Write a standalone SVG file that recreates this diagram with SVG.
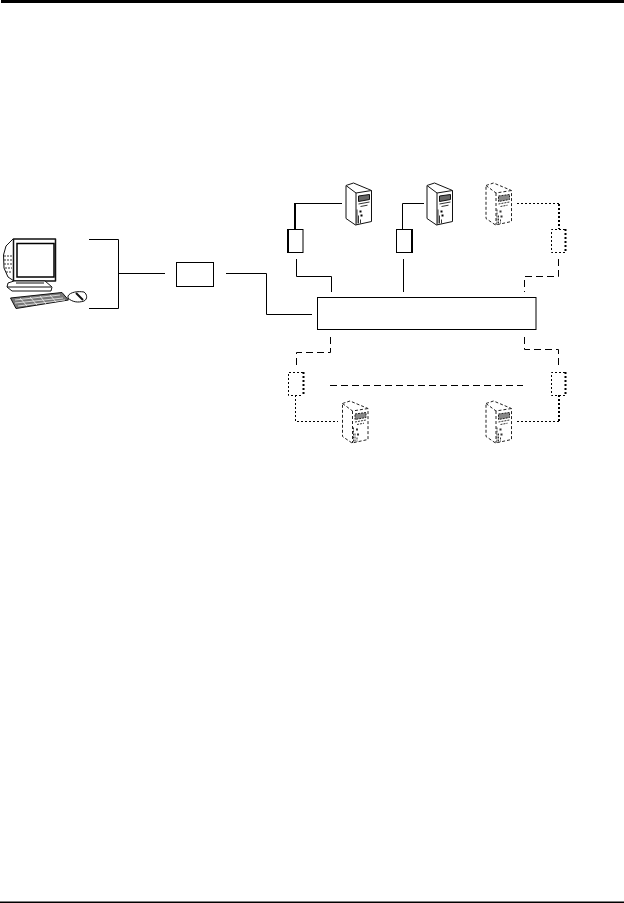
<svg xmlns="http://www.w3.org/2000/svg" width="624" height="903" viewBox="0 0 624 903">
<style>
.l{fill:none;stroke:#000;stroke-width:1}
.t{fill:none;stroke:#000;stroke-width:2}
.box{fill:#fff;stroke:#000;stroke-width:1}
.dash{fill:none;stroke:#000;stroke-width:1;stroke-dasharray:7 4}
.dot{fill:none;stroke:#000;stroke-width:1;stroke-dasharray:2 2}
.dott{fill:none;stroke:#000;stroke-width:2;stroke-dasharray:2 2}
.s{fill:#fff;stroke:#111;stroke-width:1;stroke-linejoin:round}
.sd{fill:#fff;stroke:#222;stroke-width:1;stroke-dasharray:3 2}
.f{fill:none;stroke:#333;stroke-width:1}
.fd{fill:none;stroke:#333;stroke-width:1;stroke-dasharray:2 1}
.k{fill:#777;stroke:#111;stroke-width:1}
</style>
<defs>
<g id="srv">
<path class="s" d="M.5 3 8 .5 26 8V39L10 42.500.5 36Z"/>
<path class="s" d="M.5 3 10.500 10.500 26 8M10.500 10.500V42.500"/>
<path d="M13 13.500 24 12V17L13 19Z" fill="#666" stroke="#111"/>
<path class="f" d="M13 21.500 24 19.500M15 24 22 22.700M11.500 27V41M13 33V41M15 37V41"/>
<rect x="14" y="28" width="2" height="2" fill="#000"/><rect x="15" y="32" width="2" height="2" fill="#000"/>
</g>
<g id="srvd">
<path class="sd" d="M.5 3 8 .5 26 8V39L10 42.500.5 36Z"/>
<path class="sd" d="M.5 3 10.500 10.500 26 8M10.500 10.500V42.500"/>
<path d="M13 13.500 24 12V17L13 19Z" fill="#888" stroke="#222" stroke-dasharray="2 1"/>
<path class="fd" d="M13 21.500 24 19.500M15 24 22 22.700M11.500 27V41M13 33V41M15 37V41"/>
<rect x="14" y="28" width="2" height="2" fill="#333"/><rect x="15" y="33" width="2" height="2" fill="#333"/>
</g>
</defs>
<rect id="top-bar" x="1" y="0" width="623" height="3" fill="#000"/>
<rect id="bottom-rule" x="0" y="901.500" width="624" height="1.500" fill="#000"/>

<g id="connectors">
<path class="l" d="M89 239.500H118.500V308.500H89M118.500 273.500H165"/>
<path class="l" d="M226 273.500H266.500V314.500H312"/>
<path class="l" d="M342 203.500H295.500"/><path class="t" d="M295 203V229"/>
<path class="l" d="M296.500 259V276.500H331.500V292"/>
<path class="l" d="M424 203.500H402.500V229"/>
<path class="l" d="M403.500 259V292"/>
<path class="dot" d="M517 203.500H559"/><path class="dott" d="M559 204V229"/>
<path class="dash" d="M558.500 259V276.500H524.500V292"/>
<path class="dash" d="M330.500 337V352.500H296.500V368"/>
<path class="dot" d="M295.500 395V421.500H338"/>
<path class="dash" d="M330 385.500H523"/>
<path class="dash" d="M524.500 337V349.500H558.500V365"/>
<path class="dott" d="M559 395V421"/><path class="dot" d="M559 421.500H517"/>
</g>

<g id="console-pc">
<path class="s" d="M13 239 6 246 3.500 255 4 268 8 277 14 281"/>
<path class="f" d="M4 256H12M4 260H12M4 264H12M5 268H12M6 272H12" stroke-dasharray="2 1"/>
<rect class="s" x="13.500" y="239" width="42" height="42" style="stroke-width:1.500"/>
<rect x="17" y="243.500" width="37" height="33.500" fill="#fff" stroke="#000" stroke-width="1.500"/>
<path class="s" d="M8 283 14 281H45L52 287 51 291 12 291 7 287Z"/>
<path class="s" d="M7 287H51M16 283H44"/>
<path class="k" d="M10.500 298 62 292.500 68.500 300 16 308.500Z"/>
<path d="M15 300 60 295M15 303 63 298M18 306 65 300M20 298 27 306M30 297 37 305M40 296 46 304M50 295 56 302" stroke="#fff" stroke-width=".7" fill="none"/>
<path class="s" d="M68 296C70 292 78 291 84 292 87 294 88 299 84 301 78 303 72 302 68 298Z"/>
<path d="M76 293 83 300" stroke="#111" stroke-width="2" fill="none"/>
</g>

<g id="switch"><rect class="box" x="176.500" y="262.500" width="37" height="24"/></g>
<g id="kvm"><rect class="box" x="317.500" y="297.500" width="218.500" height="32"/></g>

<g id="adapter-1"><rect class="box" x="287.500" y="229.500" width="15.500" height="23"/><path class="t" d="M288 229V253"/></g>
<g id="adapter-2"><rect class="box" x="396.500" y="229.500" width="15.500" height="23"/><path class="t" d="M412 229V253"/></g>
<g id="adapter-3"><path class="dot" d="M565 229.500H551.500V252.500H565"/><path class="dott" d="M565.500 229V253"/></g>
<g id="adapter-4"><path class="dot" d="M303 372.500H288.500V395.500H303"/><path class="dott" d="M303.500 372V396"/></g>
<g id="adapter-5"><path class="dot" d="M565 372.500H551.500V395.500H565"/><path class="dott" d="M565.500 372V396"/></g>

<g id="server-1"><use href="#srv" x="345.500" y="182.500"/></g>
<g id="server-2"><use href="#srv" x="426.500" y="182.500"/></g>
<g id="server-3"><use href="#srvd" x="485.500" y="182.500"/></g>
<g id="server-4"><use href="#srvd" x="342" y="400.500"/></g>
<g id="server-5"><use href="#srvd" x="485.500" y="400.500"/></g>
</svg>
